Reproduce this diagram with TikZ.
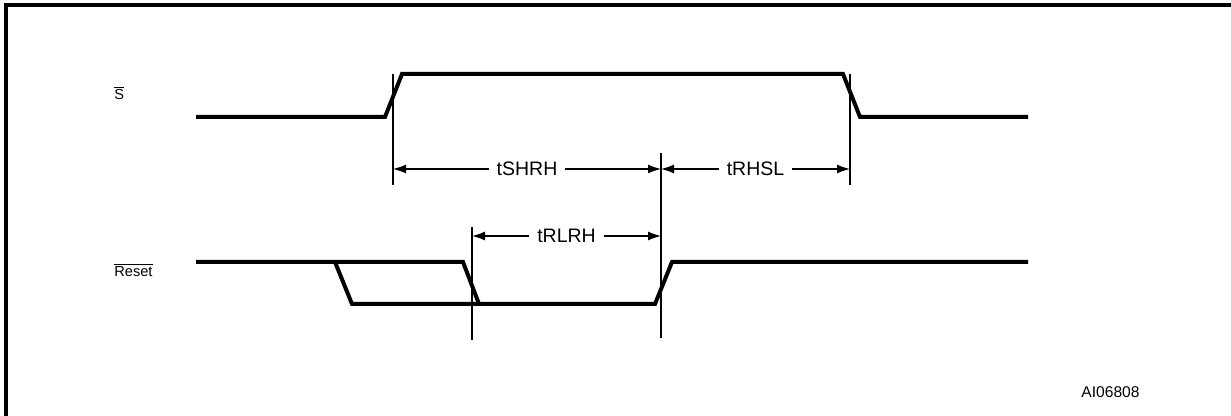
\documentclass[tikz,border=0pt]{standalone}
\usepackage{fontspec}
\setmainfont{Liberation Sans}
\usetikzlibrary{arrows.meta}

\begin{document}
\begin{tikzpicture}[x=0.5pt, y=-0.5pt,
  signal/.style={line width=2pt},
  marker/.style={line width=0.65pt},
  timing/.style={line width=0.65pt, {Latex[length=6.5pt,width=4.5pt]}-{Latex[length=6.5pt,width=4.5pt]}},
  tlabel/.style={fill=white, inner sep=4pt, font=\fontsize{9.75}{12}\selectfont},
  siglabel/.style={anchor=base west, inner sep=0pt, font=\fontsize{7.3}{9}\selectfont}]
\clip (0,0) rectangle (1231,416);
\draw [line width=2pt] (6,440) -- (6,5) -- (1260,5);
% signal names
\node [siglabel] (nameS) at (114,100) {$\overline{\mbox{S}}$};
\node [siglabel] (nameReset) at (114,277) {$\overline{\mbox{Reset}}$};
% waveforms
\draw [signal] (196,117) -- (385,117) -- (402,74) -- (843,74) -- (860,117) -- (1028,117);
\draw [signal] (196,262) -- (463,262) -- (479,304) -- (655,304) -- (672,262) -- (1028,262);
\draw [signal] (335,262) -- (352,304) -- (479,304);
% reference lines
\foreach \x/\a/\b in {393/74/185, 472/227/340, 661/153/338, 850/74/185}
  \draw [marker] (\x,\a) -- (\x,\b);
% timing parameters
\coordinate (sRise) at (393,169);
\coordinate (rRiseA) at (661,169);
\coordinate (sFall) at (850,169);
\coordinate (rFall) at (472,236);
\coordinate (rRiseB) at (661,236);
\draw [timing] (sRise) -- (rRiseA) node [midway, tlabel] (tSHRH) {tSHRH};
\draw [timing] (rRiseA) -- (sFall) node [midway, tlabel] (tRHSL) {tRHSL};
\draw [timing] (rFall) -- (rRiseB) node [midway, tlabel] (tRLRH) {tRLRH};
\node [anchor=base west, inner sep=0pt, font=\fontsize{7.8}{9}\selectfont] (figid) at (1081,398) {AI06808};
\end{tikzpicture}
\end{document}
